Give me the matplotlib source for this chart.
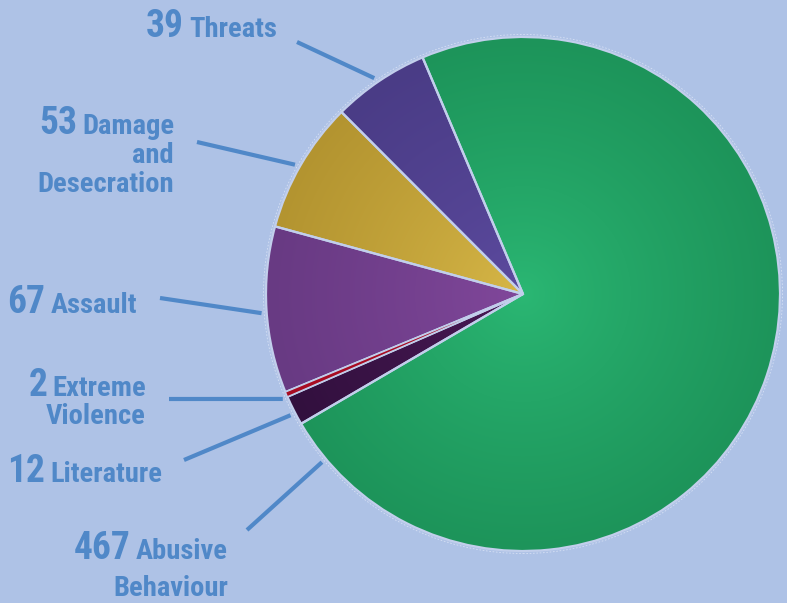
import numpy as np
import matplotlib
matplotlib.use("Agg")
import matplotlib.pyplot as plt
from matplotlib import font_manager
from matplotlib.colors import to_rgb

# data
categories = ["Threats", "Damage\nand\nDesecration", "Assault",
              "Extreme\nViolence", "Literature", "Abusive\nBehaviour"]
counts = [39, 53, 67, 2, 12, 467]
inner_colors = ["#5d4ba0", "#d8b848", "#82489c", "#c0142e", "#4c1a58", "#2bb874"]
outer_colors = ["#4a3c86", "#b39430", "#683a83", "#a80c22", "#32103e", "#1d945a"]

W, H = 787, 603
BG = "#aec2e6"
TXT = "#5088c8"
EDGE = "#c2cfec"


def pick_font(names):
    for n in names:
        try:
            font_manager.findfont(n, fallback_to_default=False)
            return n
        except ValueError:
            pass
    return "DejaVu Sans"


FONT = pick_font(["Liberation Sans Narrow", "Roboto Condensed", "Roboto", "DejaVu Sans"])

fig = plt.figure(figsize=(W / 100, H / 100), dpi=100, facecolor=BG)
ax = fig.add_axes([0, 0, 1, 1])
ax.set_facecolor(BG)

cx, cy, R = 523, H - 294, 257

wedges, _ = ax.pie(counts, colors=outer_colors, startangle=113, counterclock=True,
                   center=(cx, cy), radius=R, wedgeprops=dict(linewidth=0))

# radial gradient inside each wedge (tiny slices keep a flat fill on top)
n = 400
xs = np.linspace(cx - R, cx + R, n)
ys = np.linspace(cy - R, cy + R, n)
gx, gy = np.meshgrid(xs, ys)
rr = np.clip(np.hypot(gx - cx, gy - cy) / R, 0, 1) ** 0.8
total = sum(counts)
for w, ci, co, v in zip(wedges, inner_colors, outer_colors, counts):
    if v / total < 0.01:
        w.set_zorder(3.5)
        w.set_edgecolor(EDGE)
        w.set_linewidth(0.9)
        continue
    a, b = np.array(to_rgb(ci)), np.array(to_rgb(co))
    img = a + (b - a) * rr[..., None]
    im = ax.imshow(img, extent=[cx - R, cx + R, cy - R, cy + R], origin="lower",
                   interpolation="bilinear", zorder=1.5)
    im.set_clip_path(w)

ax.pie(counts, colors=["none"] * len(counts), startangle=113, counterclock=True,
       center=(cx, cy), radius=R,
       wedgeprops=dict(linewidth=1.6, edgecolor=EDGE, zorder=3))
ring = plt.Circle((cx, cy), R + 2.5, fill=False, ec="#d6e0f4", lw=0.6, ls=(0, (2, 2)), zorder=3)
ax.add_patch(ring)

ax.set_xlim(0, W)
ax.set_ylim(0, H)
ax.set_aspect("equal")
ax.axis("off")

# label layout: right edge x, first baseline y (pixels from top), line gap, leader outer end
label_right = [277, 174, 137, 146, 162, 228]
label_base = [37, 134, 313, 396, 482, 559]
label_gap = [29, 29, 29, 28, 29, 37]
leader_out = [(297, 42), (197, 142), (160, 298), (169, 399), (184, 460), (247, 530)]

fig.canvas.draw()
renderer = fig.canvas.get_renderer()

for i, w in enumerate(wedges):
    ang = (w.theta1 + w.theta2) / 2
    if counts[i] == max(counts):
        ang = w.theta1 + 9
    ang = np.deg2rad(ang + 0.6)
    x0, y0 = cx + 1.02 * R * np.cos(ang), cy + 1.02 * R * np.sin(ang)
    x1, y1 = leader_out[i]
    ax.plot([x0, x1], [y0, H - y1], color=TXT, lw=3, solid_capstyle="butt", zorder=4)

    lines = categories[i].split("\n")
    first = None
    for j, line in enumerate(lines):
        t = ax.text(label_right[i], H - label_base[i] - j * label_gap[i], line,
                    ha="right", va="baseline", fontsize=20.5, fontweight="bold",
                    color=TXT, family=FONT)
        if j == 0:
            first = t
    bb = first.get_window_extent(renderer)
    ax.text(bb.x0 - 5, H - label_base[i], str(counts[i]), ha="right", va="baseline",
            fontsize=27, fontweight="bold", color=TXT, family=FONT)

fig.savefig("out.png", dpi=100, facecolor=BG)
